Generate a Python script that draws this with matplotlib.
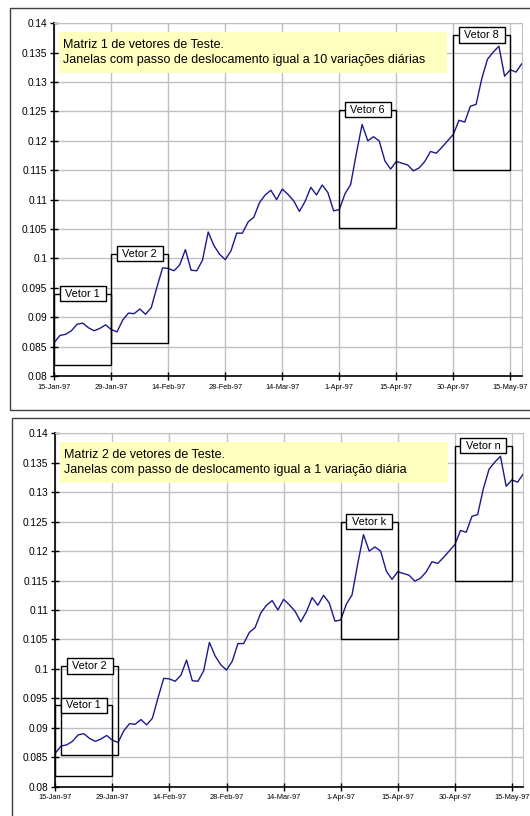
import matplotlib
matplotlib.use("Agg")
import matplotlib.pyplot as plt
from matplotlib.patches import Rectangle

plt.rcParams['font.family'] = ['Liberation Sans', 'DejaVu Sans']

# daily values (category axis, one point per trading day)
taxa = [0.0857, 0.0869, 0.0871, 0.0877, 0.0888, 0.0890, 0.0882, 0.0877, 0.0881, 0.0887,
        0.0879, 0.0875, 0.0895, 0.0907, 0.0906, 0.0914, 0.0905, 0.0916, 0.0951, 0.0984,
        0.0983, 0.0979, 0.0989, 0.1015, 0.0980, 0.0979, 0.0997, 0.1045, 0.1022, 0.1007,
        0.0998, 0.1013, 0.1043, 0.1043, 0.1062, 0.1070, 0.1095, 0.1108, 0.1116, 0.1100,
        0.1118, 0.1109, 0.1098, 0.1080, 0.1097, 0.1121, 0.1108, 0.1125, 0.1112, 0.1081,
        0.1083, 0.1110, 0.1126, 0.1179, 0.1228, 0.1200, 0.1207, 0.1200, 0.1166, 0.1152,
        0.1165, 0.1162, 0.1159, 0.1149, 0.1154, 0.1165, 0.1182, 0.1179, 0.1189, 0.1200,
        0.1211, 0.1235, 0.1232, 0.1259, 0.1262, 0.1306, 0.1339, 0.1351, 0.1361, 0.1310,
        0.1321, 0.1317, 0.1331]

datas = ['15-Jan-97', '29-Jan-97', '14-Feb-97', '28-Feb-97', '14-Mar-97',
         '1-Apr-97', '15-Apr-97', '30-Apr-97', '15-May-97']
yticks = [0.08, 0.085, 0.09, 0.095, 0.1, 0.105, 0.11, 0.115, 0.12, 0.125, 0.13, 0.135, 0.14]
ylabels = ['0.08', '0.085', '0.09', '0.095', '0.1', '0.105', '0.11', '0.115', '0.12',
           '0.125', '0.13', '0.135', '0.14']

titulos = ["Matriz 1 de vetores de Teste.\nJanelas com passo de deslocamento igual a 10 variações diárias",
           "Matriz 2 de vetores de Teste.\nJanelas com passo de deslocamento igual a 1 variação diária"]

# windows: name, start index, end index, low, high
janelas1 = [("Vetor 1", 0, 10, 0.0819, 0.0940),
            ("Vetor 2", 10, 20, 0.0856, 0.1008),
            ("Vetor 6", 50, 60, 0.1052, 0.1253),
            ("Vetor 8", 70, 80, 0.1151, 0.1380)]
janelas2 = [("Vetor 1", 0, 10, 0.0818, 0.0938),
            ("Vetor 2", 1, 11, 0.0854, 0.1005),
            ("Vetor k", 50, 60, 0.1050, 0.1250),
            ("Vetor n", 70, 80, 0.1149, 0.1379)]

W, H = 530, 816
fig = plt.figure(figsize=(W / 100, H / 100), dpi=100)

# panel frames (pixel coords -> figure fraction)
for x0, ytop, ybot in [(10, 8.3, 410), (11.7, 418.3, 830)]:
    fig.patches.append(Rectangle((x0 / W, 1 - ybot / H), (W + 20 - x0) / W, (ybot - ytop) / H,
                                 transform=fig.transFigure, fill=False,
                                 edgecolor='#404040', lw=1.0))

axes_px = [(54.3, 521.7, 23.3, 376.0), (55.3, 523.3, 433.3, 786.7)]
xs = list(range(len(taxa)))

for k, (l, r, t, b) in enumerate(axes_px):
    ax = fig.add_axes([l / W, 1 - b / H, (r - l) / W, (b - t) / H])
    ax.plot(xs, taxa, color='#1a1a8c', lw=1.0, zorder=4)
    ax.set_xlim(0, 82)
    ax.set_ylim(0.08, 0.14)
    ax.set_yticks(yticks)
    ax.set_yticklabels(ylabels, fontsize=7.3)
    ax.set_xticks(range(0, 81, 10))
    ax.set_xticklabels(datas, fontsize=5.3)
    ax.tick_params(axis='y', direction='inout', length=6, width=1, pad=2)
    ax.tick_params(axis='x', direction='inout', length=6, width=1, pad=2.5)
    ax.grid(True, color='#c0c0c0', lw=1.0)
    ax.set_axisbelow(True)
    for s in ['top', 'right']:
        ax.spines[s].set_color('#c0c0c0')
    for s in ['left', 'bottom']:
        ax.spines[s].set_color('black')
        ax.spines[s].set_linewidth(1.2)

    # yellow note
    ax.add_patch(Rectangle((0.0107, 0.8582), 0.8288, 0.118, transform=ax.transAxes,
                           facecolor='#ffffc0', edgecolor='none', zorder=3))
    ax.text(0.018, 0.917, titulos[k], transform=ax.transAxes, fontsize=9,
            va='center', ha='left', linespacing=1.3, zorder=5)

    janelas = janelas1 if k == 0 else janelas2
    for nome, i0, i1, lo, hi in janelas:
        ax.add_patch(Rectangle((i0, lo), i1 - i0, hi - lo, fill=False,
                               edgecolor='black', lw=1.0, zorder=5))
        ax.text((i0 + i1) / 2, hi, " " + nome + " ", fontsize=7.8, ha='center', va='center',
                zorder=6, bbox=dict(boxstyle='square,pad=0.25', facecolor='white',
                                    edgecolor='black', lw=1.0))

fig.savefig('out.png', dpi=100)
